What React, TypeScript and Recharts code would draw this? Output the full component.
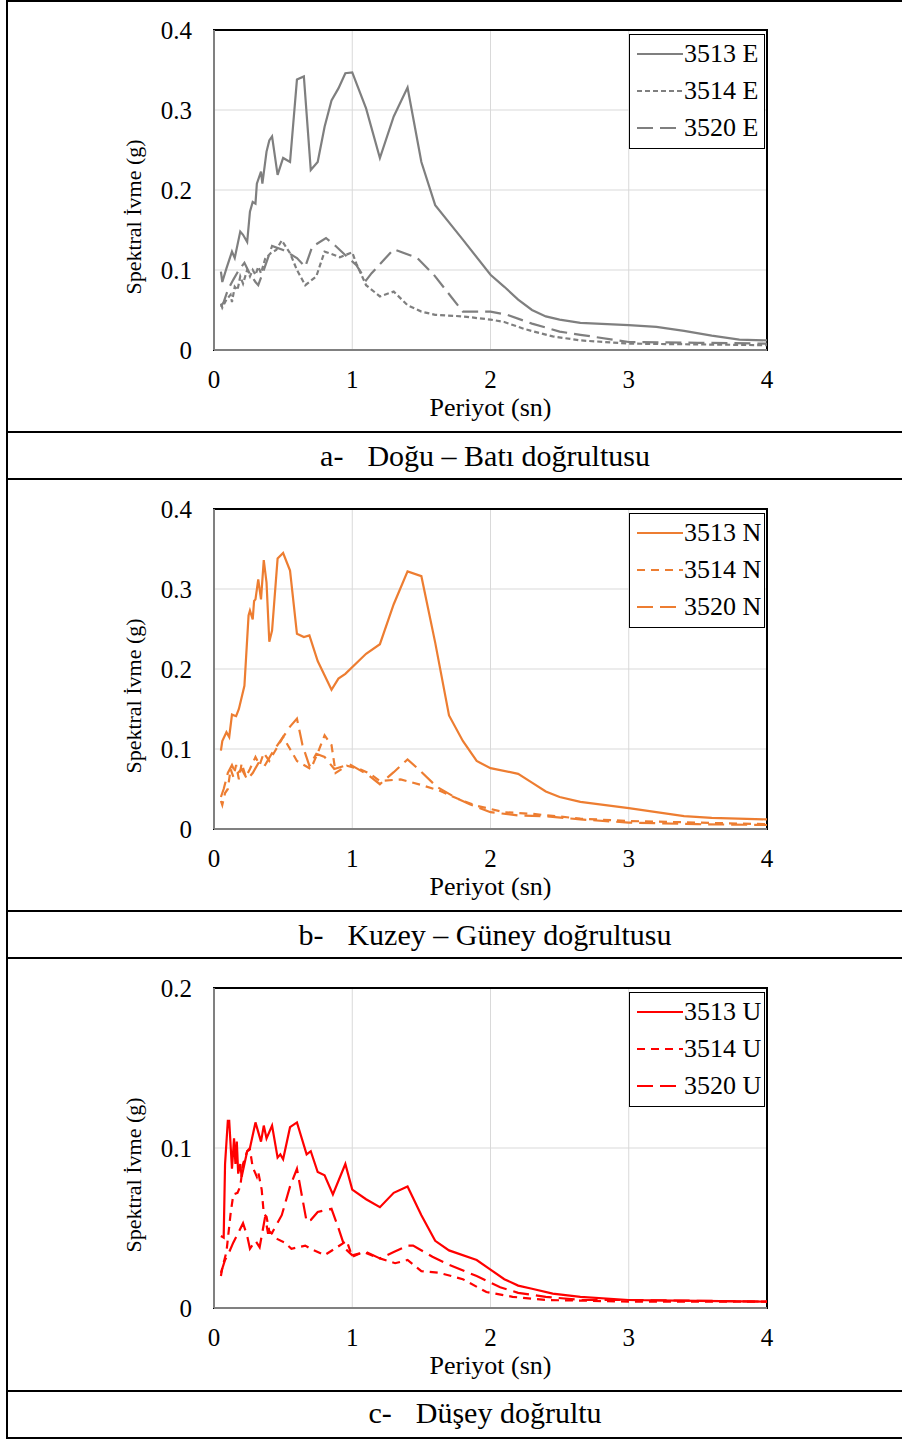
import React from "react";
import { CartesianGrid, Legend, Line, LineChart, ReferenceArea, XAxis, YAxis } from "recharts";

type Pt = [number, number];

// periyot (sn) ekseni ve spektral ivme ekseni tikleri
const periodTicks = [0, 1, 2, 3, 4];
const accTicksAB = [0, 0.1, 0.2, 0.3, 0.4];
const accTicksC = [0, 0.1, 0.2];

// a- Doğu – Batı
const s3513E: Pt[] = [
  [0.05, 0.098], [0.06, 0.085], [0.09, 0.102], [0.13, 0.123], [0.15, 0.115], [0.19, 0.148], [0.21, 0.144],
  [0.24, 0.135], [0.26, 0.173], [0.28, 0.185], [0.3, 0.183], [0.31, 0.208], [0.34, 0.223], [0.35, 0.208],
  [0.38, 0.248], [0.4, 0.262], [0.42, 0.267], [0.46, 0.219], [0.5, 0.24], [0.55, 0.235], [0.6, 0.338],
  [0.65, 0.342], [0.7, 0.225], [0.75, 0.235], [0.8, 0.279], [0.85, 0.312], [0.9, 0.327], [0.95, 0.346],
  [1.0, 0.347], [1.1, 0.302], [1.2, 0.24], [1.3, 0.292], [1.4, 0.328], [1.5, 0.235], [1.6, 0.181],
  [1.8, 0.138], [2.0, 0.094], [2.1, 0.079], [2.2, 0.063], [2.3, 0.05], [2.4, 0.042], [2.5, 0.038],
  [2.65, 0.034], [3.0, 0.031], [3.2, 0.029], [3.4, 0.024], [3.6, 0.018], [3.8, 0.013], [4.0, 0.012],
];
const s3514E: Pt[] = [
  [0.05, 0.058], [0.06, 0.053], [0.09, 0.063], [0.12, 0.069], [0.13, 0.06], [0.15, 0.079], [0.17, 0.075],
  [0.19, 0.092], [0.21, 0.083], [0.24, 0.1], [0.26, 0.092], [0.28, 0.1], [0.3, 0.094], [0.32, 0.104],
  [0.34, 0.096], [0.37, 0.114], [0.41, 0.121], [0.45, 0.125], [0.49, 0.137], [0.55, 0.121], [0.6, 0.1],
  [0.66, 0.081], [0.74, 0.092], [0.8, 0.123], [0.85, 0.12], [0.91, 0.116], [1.0, 0.122], [1.03, 0.108],
  [1.1, 0.081], [1.2, 0.067], [1.3, 0.073], [1.4, 0.056], [1.5, 0.048], [1.6, 0.044], [1.8, 0.042],
  [2.0, 0.038], [2.1, 0.035], [2.25, 0.026], [2.45, 0.017], [2.65, 0.012], [3.0, 0.008], [3.5, 0.007],
  [4.0, 0.006],
];
const s3520E: Pt[] = [
  [0.05, 0.054], [0.07, 0.06], [0.1, 0.075], [0.14, 0.088], [0.18, 0.1], [0.22, 0.109], [0.26, 0.095],
  [0.3, 0.085], [0.32, 0.081], [0.36, 0.1], [0.42, 0.13], [0.5, 0.125], [0.6, 0.115], [0.66, 0.104],
  [0.71, 0.129], [0.81, 0.14], [0.88, 0.13], [0.96, 0.117], [1.03, 0.106], [1.1, 0.087], [1.14, 0.096],
  [1.3, 0.126], [1.47, 0.115], [1.59, 0.094], [1.8, 0.048], [2.0, 0.048], [2.12, 0.044], [2.3, 0.033],
  [2.5, 0.023], [2.65, 0.019], [3.0, 0.01], [3.5, 0.009], [4.0, 0.008],
];

// b- Kuzey – Güney
const s3513N: Pt[] = [
  [0.05, 0.098], [0.06, 0.11], [0.09, 0.121], [0.11, 0.115], [0.13, 0.143], [0.16, 0.141], [0.18, 0.15],
  [0.22, 0.179], [0.25, 0.267], [0.26, 0.273], [0.28, 0.262], [0.29, 0.285], [0.3, 0.287], [0.32, 0.312],
  [0.34, 0.287], [0.36, 0.336], [0.38, 0.308], [0.4, 0.234], [0.42, 0.248], [0.46, 0.338], [0.5, 0.345],
  [0.55, 0.323], [0.6, 0.244], [0.65, 0.24], [0.69, 0.242], [0.75, 0.21], [0.85, 0.174], [0.9, 0.188],
  [0.95, 0.194], [1.1, 0.219], [1.2, 0.231], [1.3, 0.281], [1.4, 0.322], [1.5, 0.316], [1.6, 0.233],
  [1.7, 0.142], [1.8, 0.11], [1.9, 0.085], [2.0, 0.076], [2.2, 0.069], [2.3, 0.058], [2.4, 0.047],
  [2.5, 0.04], [2.65, 0.034], [3.0, 0.026], [3.2, 0.021], [3.4, 0.016], [3.6, 0.014], [4.0, 0.012],
];
const s3514N: Pt[] = [
  [0.05, 0.035], [0.06, 0.03], [0.08, 0.045], [0.1, 0.05], [0.12, 0.075], [0.14, 0.065], [0.16, 0.08],
  [0.18, 0.062], [0.2, 0.082], [0.23, 0.065], [0.26, 0.075], [0.3, 0.09], [0.33, 0.08], [0.36, 0.095],
  [0.4, 0.085], [0.45, 0.1], [0.5, 0.115], [0.55, 0.1], [0.6, 0.085], [0.65, 0.08], [0.7, 0.075],
  [0.75, 0.095], [0.8, 0.117], [0.85, 0.105], [0.88, 0.07], [0.96, 0.079], [1.05, 0.075], [1.13, 0.069],
  [1.2, 0.06], [1.35, 0.062], [1.5, 0.055], [1.63, 0.048], [1.76, 0.038], [1.9, 0.029], [2.1, 0.021],
  [2.3, 0.019], [2.65, 0.013], [3.0, 0.01], [3.5, 0.008], [4.0, 0.006],
];
const s3520N: Pt[] = [
  [0.05, 0.04], [0.07, 0.05], [0.1, 0.07], [0.13, 0.08], [0.16, 0.068], [0.2, 0.075], [0.24, 0.062],
  [0.28, 0.07], [0.33, 0.085], [0.37, 0.08], [0.42, 0.095], [0.48, 0.11], [0.55, 0.128], [0.6, 0.138],
  [0.64, 0.105], [0.69, 0.079], [0.74, 0.094], [0.8, 0.09], [0.87, 0.075], [0.98, 0.081], [1.12, 0.067],
  [1.2, 0.056], [1.3, 0.071], [1.4, 0.087], [1.49, 0.073], [1.61, 0.053], [1.76, 0.038], [1.85, 0.031],
  [2.0, 0.021], [2.2, 0.017], [2.4, 0.016], [2.65, 0.012], [3.0, 0.008], [3.5, 0.006], [4.0, 0.005],
];

// c- Düşey
const s3513U: Pt[] = [
  [0.05, 0.045], [0.07, 0.044], [0.08, 0.09], [0.1, 0.117], [0.11, 0.117], [0.13, 0.087], [0.145, 0.106],
  [0.155, 0.09], [0.165, 0.104], [0.175, 0.084], [0.19, 0.09], [0.2, 0.082], [0.24, 0.098], [0.26, 0.1],
  [0.3, 0.116], [0.34, 0.104], [0.36, 0.114], [0.38, 0.106], [0.42, 0.114], [0.46, 0.094], [0.48, 0.096],
  [0.5, 0.093], [0.55, 0.113], [0.6, 0.116], [0.67, 0.096], [0.7, 0.098], [0.75, 0.085], [0.8, 0.083],
  [0.86, 0.071], [0.95, 0.09], [1.0, 0.074], [1.1, 0.068], [1.2, 0.063], [1.3, 0.072], [1.4, 0.076],
  [1.5, 0.058], [1.6, 0.042], [1.7, 0.036], [1.9, 0.03], [2.0, 0.024], [2.1, 0.018], [2.2, 0.014],
  [2.3, 0.012], [2.45, 0.009], [2.65, 0.007], [3.0, 0.005], [3.5, 0.0045], [4.0, 0.004],
];
const s3514U: Pt[] = [
  [0.05, 0.02], [0.06, 0.025], [0.09, 0.035], [0.12, 0.059], [0.14, 0.071], [0.17, 0.072], [0.19, 0.076],
  [0.21, 0.09], [0.24, 0.098], [0.26, 0.099], [0.28, 0.088], [0.31, 0.082], [0.32, 0.085], [0.345, 0.074],
  [0.36, 0.059], [0.38, 0.057], [0.4, 0.048], [0.46, 0.043], [0.51, 0.041], [0.56, 0.037], [0.66, 0.039],
  [0.7, 0.037], [0.8, 0.033], [0.89, 0.038], [0.96, 0.042], [1.0, 0.032], [1.08, 0.035], [1.2, 0.031],
  [1.31, 0.028], [1.4, 0.03], [1.5, 0.023], [1.63, 0.022], [1.8, 0.018], [1.97, 0.01], [2.16, 0.007],
  [2.4, 0.005], [2.65, 0.0046], [3.0, 0.004], [4.0, 0.004],
];
const s3520U: Pt[] = [
  [0.05, 0.022], [0.08, 0.03], [0.11, 0.035], [0.14, 0.041], [0.17, 0.046], [0.21, 0.053], [0.24, 0.045],
  [0.26, 0.037], [0.3, 0.042], [0.33, 0.038], [0.37, 0.057], [0.39, 0.047], [0.42, 0.047], [0.49, 0.058],
  [0.55, 0.076], [0.6, 0.087], [0.67, 0.054], [0.7, 0.055], [0.75, 0.06], [0.85, 0.062], [0.9, 0.05],
  [0.95, 0.037], [1.0, 0.033], [1.1, 0.035], [1.2, 0.031], [1.3, 0.035], [1.4, 0.039], [1.44, 0.039],
  [1.58, 0.032], [1.7, 0.027], [1.9, 0.02], [2.07, 0.013], [2.2, 0.0095], [2.4, 0.007], [2.65, 0.005],
  [3.0, 0.005], [3.5, 0.0045], [4.0, 0.004],
];

const FONT = '"Liberation Serif", "Times New Roman", serif';
const GRID = "#d9d9d9";
const FRAME = "#808080";

interface Serie {
  name: string;
  pts: Pt[];
  dash?: string;
}

const toRows = (pts: Pt[]) => pts.map(([t, v]) => ({ t, v }));
const fmtAcc = (v: number) => (v === 0 ? "0" : v.toFixed(1));

function LegendBox({ series, color }: { series: Serie[]; color: string }) {
  return (
    <div
      style={{
        boxSizing: "border-box",
        width: 136,
        height: 115,
        border: "1.5px solid #000",
        background: "#fff",
        fontFamily: FONT,
        fontSize: 26,
        color: "#000",
      }}
    >
      {series.map((s) => (
        <div key={s.name} style={{ display: "flex", alignItems: "center", height: 37.3 }}>
          <svg width={54} height={10} style={{ flexShrink: 0 }}>
            <line x1={7} x2={53} y1={5} y2={5} stroke={color} strokeWidth={2} strokeDasharray={s.dash} />
          </svg>
          <span style={{ lineHeight: 1, whiteSpace: "nowrap" }}>{s.name}</span>
        </div>
      ))}
    </div>
  );
}

function SpectrumChart({
  series,
  color,
  yMax,
  yTicks,
}: {
  series: Serie[];
  color: string;
  yMax: number;
  yTicks: number[];
}) {
  const tickStyle = { fill: "#000", fontSize: 25, fontFamily: FONT };
  return (
    <LineChart width={902} height={430} margin={{ top: 28, right: 135, left: 154, bottom: 22 }}>
      <CartesianGrid stroke={GRID} strokeWidth={1} />
      <ReferenceArea x1={0} x2={4} y1={0} y2={yMax} fill="none" stroke="#000" strokeWidth={2} />
      <XAxis
        dataKey="t"
        type="number"
        domain={[0, 4]}
        ticks={periodTicks}
        height={60}
        tickLine={false}
        tickMargin={14}
        axisLine={{ stroke: FRAME, strokeWidth: 2 }}
        tick={tickStyle}
        label={{
          content: (p: any) => (
            <text
              x={p.viewBox.x + p.viewBox.width / 2}
              y={p.viewBox.y + 57}
              textAnchor="middle"
              dominantBaseline="central"
              fontFamily={FONT}
              fontSize={26}
              fill="#000"
            >
              Periyot (sn)
            </text>
          ),
        }}
      />
      <YAxis
        type="number"
        domain={[0, yMax]}
        ticks={yTicks}
        width={60}
        tickLine={false}
        tickMargin={16}
        tickFormatter={fmtAcc}
        axisLine={{ stroke: FRAME, strokeWidth: 2 }}
        tick={tickStyle}
        label={{
          content: (p: any) => {
            const cx = p.viewBox.x - 21;
            const cy = p.viewBox.y + p.viewBox.height / 2 + 27;
            return (
              <text
                x={cx}
                y={cy}
                transform={`rotate(-90 ${cx} ${cy})`}
                textAnchor="middle"
                dominantBaseline="central"
                fontFamily={FONT}
                fontSize={22}
                fill="#000"
              >
                Spektral İvme (g)
              </text>
            );
          },
        }}
      />
      {series.map((s) => (
        <Line
          key={s.name}
          data={toRows(s.pts)}
          dataKey="v"
          name={s.name}
          stroke={color}
          strokeWidth={2.2}
          strokeDasharray={s.dash}
          dot={false}
          activeDot={false}
          isAnimationActive={false}
        />
      ))}
      <Legend
        layout="vertical"
        align="center"
        verticalAlign="middle"
        wrapperStyle={{ left: 629, top: 32, width: 136 }}
        content={() => <LegendBox series={series} color={color} />}
      />
    </LineChart>
  );
}

function Caption({ label, text, top }: { label: string; text: string; top: number }) {
  return (
    <div
      style={{
        position: "absolute",
        left: 0,
        top,
        width: 970,
        height: 32,
        lineHeight: "32px",
        textAlign: "center",
        fontFamily: FONT,
        fontSize: 30,
        color: "#000",
        whiteSpace: "nowrap",
      }}
    >
      <span>{label}</span>
      <span style={{ marginLeft: 24 }}>{text}</span>
    </div>
  );
}

const hLines = [0, 431, 478, 910, 957, 1390, 1437];

export default function App() {
  const ew: Serie[] = [
    { name: "3513 E", pts: s3513E },
    { name: "3514 E", pts: s3514E, dash: "5 3" },
    { name: "3520 E", pts: s3520E, dash: "16 7" },
  ];
  const ns: Serie[] = [
    { name: "3513 N", pts: s3513N },
    { name: "3514 N", pts: s3514N, dash: "8 6" },
    { name: "3520 N", pts: s3520N, dash: "16 7" },
  ];
  const ud: Serie[] = [
    { name: "3513 U", pts: s3513U },
    { name: "3514 U", pts: s3514U, dash: "8 6" },
    { name: "3520 U", pts: s3520U, dash: "16 7" },
  ];

  return (
    <div
      style={{
        position: "absolute",
        left: 0,
        top: 0,
        width: 902,
        height: 1439,
        background: "#fff",
        overflow: "hidden",
      }}
    >
      <div style={{ position: "absolute", left: 0, top: 2 }}>
        <SpectrumChart series={ew} color="#7f7f7f" yMax={0.4} yTicks={accTicksAB} />
      </div>
      <div style={{ position: "absolute", left: 0, top: 481 }}>
        <SpectrumChart series={ns} color="#ED7D31" yMax={0.4} yTicks={accTicksAB} />
      </div>
      <div style={{ position: "absolute", left: 0, top: 960 }}>
        <SpectrumChart series={ud} color="#FF0000" yMax={0.2} yTicks={accTicksC} />
      </div>

      <Caption label="a-" text="Doğu – Batı doğrultusu" top={440} />
      <Caption label="b-" text="Kuzey – Güney doğrultusu" top={919} />
      <Caption label="c-" text="Düşey doğrultu" top={1397} />

      {/* tablo çizgileri */}
      <div style={{ position: "absolute", left: 6, top: 0, width: 2, height: 1439, background: "#000" }} />
      {hLines.map((y) => (
        <div key={y} style={{ position: "absolute", left: 6, top: y, width: 896, height: 2, background: "#000" }} />
      ))}
    </div>
  );
}
